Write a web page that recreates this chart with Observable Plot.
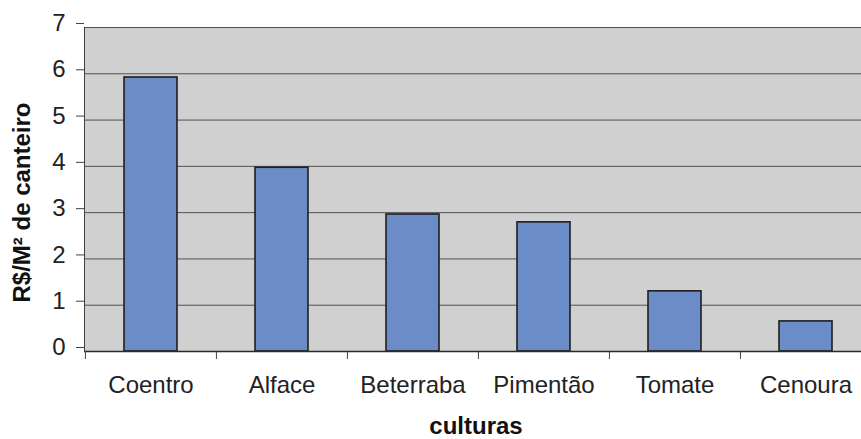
<!DOCTYPE html>
<html>
<head>
<meta charset="utf-8">
<script src="https://cdn.jsdelivr.net/npm/d3@7"></script>
<script src="https://cdn.jsdelivr.net/npm/@observablehq/plot@0.6"></script>
<style>
  html, body { margin: 0; padding: 0; background: #fff; }
  #chart svg { display: block; }
</style>
</head>
<body>
<div id="chart"></div>
<script>
const culturas = ["Coentro", "Alface", "Beterraba", "Pimentão", "Tomate", "Cenoura"];
const valores = [5.92, 3.97, 2.96, 2.79, 1.30, 0.65];
const yTicks = [0, 1, 2, 3, 4, 5, 6, 7];
const yLabel = "R$/M² de canteiro";
const xLabel = "culturas";

const data = culturas.map((c, i) => ({cultura: c, valor: valores[i]}));

const W = 861, H = 439;
const mLeft = 84, mTop = 27, mBottom = 88;
const xRange = [mLeft, 871];
const bw = (xRange[1] - xRange[0]) / culturas.length;
const pxPerUnit = (H - mBottom - mTop) / 7;
const font = "'Liberation Sans', Arial, sans-serif";

const chart = Plot.plot({
  width: W,
  height: H,
  marginLeft: mLeft,
  marginRight: 0,
  marginTop: mTop,
  marginBottom: mBottom,
  style: {fontFamily: font, fontSize: "24px", color: "#222", background: "#fff"},
  x: {domain: culturas, range: xRange, padding: 0},
  y: {domain: [0, 7], ticks: yTicks},
  marks: [
    Plot.frame({fill: "#d0d0d0"}),
    Plot.gridY(yTicks, {stroke: "#505050", strokeOpacity: 1, strokeWidth: 1}),
    Plot.barY(data, {
      x: "cultura", y: "valor",
      fill: "#6b8cc7", stroke: "#1e1e1e", strokeWidth: 1.6,
      insetLeft: 39, insetRight: 39
    }),
    Plot.ruleY([0], {stroke: "#2a2a2a", strokeWidth: 1.5}),
    Plot.frame({anchor: "left", stroke: "#404040", strokeWidth: 1}),
    Plot.ruleX(culturas, {x: d => d, dx: -bw / 2, y1: 0, y2: -8 / pxPerUnit, stroke: "#404040", strokeWidth: 1}),
    Plot.axisY(yTicks, {
      tickSize: 8, tickPadding: 11, stroke: "#404040",
      fontSize: 24, fill: "#222", dy: -4, label: null
    }),
    Plot.axisX({
      tickSize: 0, tickPadding: 24, fontSize: 24, fill: "#222", label: null
    }),
    Plot.text([xLabel], {
      frameAnchor: "bottom", lineAnchor: "middle", textAnchor: "middle",
      text: d => d, dy: 75, dx: 3,
      fontSize: 24, fontWeight: "bold", fill: "#111"
    }),
    Plot.text([yLabel], {
      frameAnchor: "left", textAnchor: "middle", lineAnchor: "middle",
      text: d => d, rotate: -90, dx: -62, dy: 13,
      fontSize: 24, fontWeight: "bold", fill: "#111"
    })
  ]
});

document.getElementById("chart").appendChild(chart);
</script>
</body>
</html>
